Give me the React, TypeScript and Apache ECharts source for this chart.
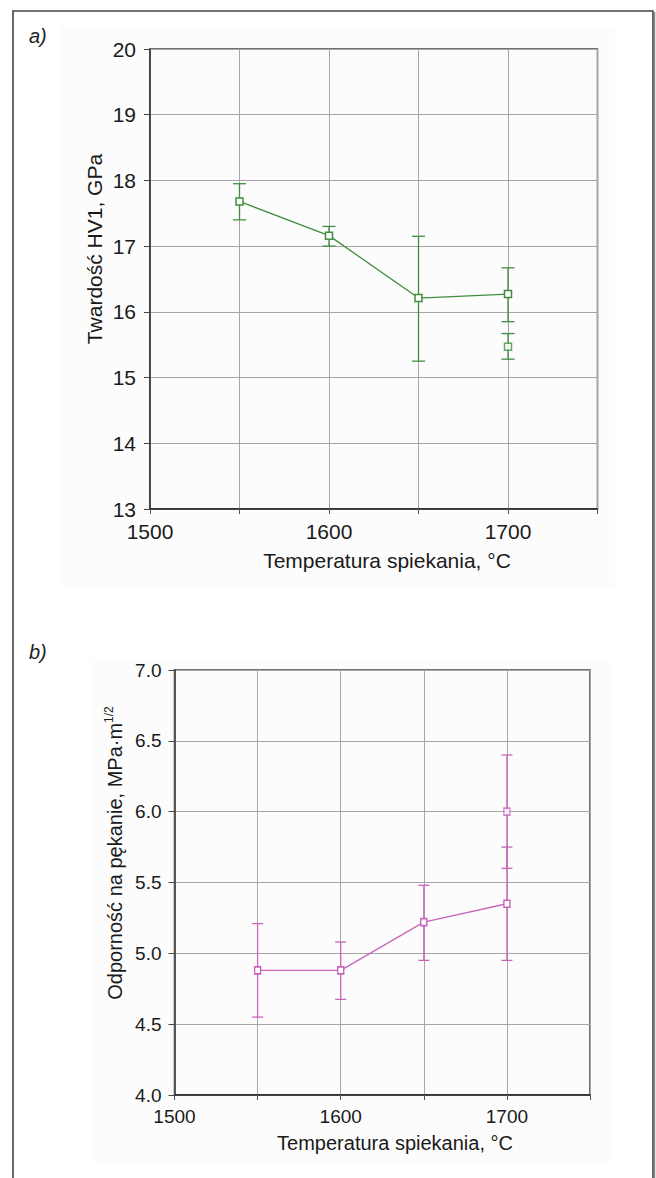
import React, { useEffect, useRef } from "react";
import * as echarts from "echarts";

// ---- Chart a) Twardość HV1 ----
const tempsA = [1550, 1600, 1650, 1700];
const hardness = [17.68, 17.16, 16.21, 16.27];
const hardnessLow = [17.4, 17.0, 15.25, 15.85];
const hardnessHigh = [17.95, 17.3, 17.15, 16.67];
const hardnessExtraT = [1700];
const hardnessExtra = [15.47];
const hardnessExtraLow = [15.28];
const hardnessExtraHigh = [15.67];

// ---- Chart b) Odporność na pękanie ----
const tempsB = [1550, 1600, 1650, 1700];
const toughness = [4.88, 4.88, 5.22, 5.35];
const toughnessLow = [4.55, 4.675, 4.95, 4.95];
const toughnessHigh = [5.21, 5.08, 5.48, 5.75];
const toughnessExtraT = [1700];
const toughnessExtra = [6.0];
const toughnessExtraLow = [5.6];
const toughnessExtraHigh = [6.4];

const xTicks = [1500, 1600, 1700];
const FONT = "'Liberation Sans', Arial, sans-serif";
const GREEN = "#3f8d3f";
const PINK = "#c866b9";
const GRID = "#aaa4a9";

function errData(t: number[], lo: number[], hi: number[]) {
  return t.map((x, i) => [x, lo[i], hi[i]]);
}

function errSeries(idx: number, data: number[][], color: string, cap: number) {
  return {
    type: "custom",
    xAxisIndex: idx,
    yAxisIndex: idx,
    z: 3,
    data,
    encode: { x: 0, y: [1, 2] },
    renderItem: (params: any, api: any) => {
      const x = api.value(0);
      const lo = api.coord([x, api.value(1)]);
      const hi = api.coord([x, api.value(2)]);
      const st = { stroke: color, lineWidth: 1.3 };
      return {
        type: "group",
        children: [
          { type: "line", shape: { x1: lo[0], y1: lo[1], x2: hi[0], y2: hi[1] }, style: st },
          { type: "line", shape: { x1: lo[0] - cap, y1: lo[1], x2: lo[0] + cap, y2: lo[1] }, style: st },
          { type: "line", shape: { x1: hi[0] - cap, y1: hi[1], x2: hi[0] + cap, y2: hi[1] }, style: st },
        ],
      };
    },
  };
}

function xAxis(idx: number, fs: number) {
  return {
    type: "value",
    gridIndex: idx,
    min: 1500,
    max: 1750,
    interval: 50,
    axisLine: { show: true, lineStyle: { color: "#222", width: 1.5 } },
    axisTick: { show: true, inside: false, length: 5, lineStyle: { color: "#555" } },
    splitLine: { show: true, lineStyle: { color: GRID, width: 1 } },
    axisLabel: {
      margin: 12,
      fontSize: fs,
      color: "#1a1a1a",
      fontFamily: FONT,
      formatter: (v: number) => (xTicks.includes(v) ? String(v) : ""),
    },
  };
}

export default function App() {
  const ref = useRef<HTMLDivElement>(null);
  useEffect(() => {
    const chart = echarts.init(ref.current!, null, { renderer: "svg" });
    const option: any = {
      animation: false,
      backgroundColor: "#ffffff",
      grid: [
        { left: 150, top: 49, width: 447.5, height: 460, show: true, borderColor: "#444", borderWidth: 1.5 },
        { left: 174.5, top: 670, width: 415.5, height: 425, show: true, borderColor: "#444", borderWidth: 1.5 },
      ],
      xAxis: [xAxis(0, 21), xAxis(1, 19)],
      yAxis: [
        {
          type: "value",
          gridIndex: 0,
          min: 13,
          max: 20,
          interval: 1,
          axisLine: { show: true, lineStyle: { color: "#333", width: 1.5 } },
          axisTick: { show: true, length: 6, lineStyle: { color: "#444" } },
          splitLine: { show: true, lineStyle: { color: GRID, width: 1 } },
          axisLabel: { margin: 14, fontSize: 21, color: "#1a1a1a", fontFamily: FONT },
        },
        {
          type: "value",
          gridIndex: 1,
          min: 4,
          max: 7,
          interval: 0.5,
          axisLine: { show: true, lineStyle: { color: "#333", width: 1.5 } },
          axisTick: { show: true, length: 6, lineStyle: { color: "#444" } },
          splitLine: { show: true, lineStyle: { color: GRID, width: 1 } },
          axisLabel: {
            margin: 13,
            fontSize: 19,
            color: "#1a1a1a",
            fontFamily: FONT,
            formatter: (v: number) => v.toFixed(1),
          },
        },
      ],
      series: [
        errSeries(0, errData(tempsA, hardnessLow, hardnessHigh), GREEN, 6.5),
        errSeries(0, errData(hardnessExtraT, hardnessExtraLow, hardnessExtraHigh), GREEN, 6.5),
        {
          type: "line",
          xAxisIndex: 0,
          yAxisIndex: 0,
          z: 5,
          data: tempsA.map((t, i) => [t, hardness[i]]),
          symbol: "rect",
          symbolSize: 7,
          lineStyle: { color: GREEN, width: 1.3 },
          itemStyle: { color: "#fff", borderColor: GREEN, borderWidth: 1.5 },
        },
        {
          type: "scatter",
          xAxisIndex: 0,
          yAxisIndex: 0,
          z: 5,
          data: hardnessExtraT.map((t, i) => [t, hardnessExtra[i]]),
          symbol: "rect",
          symbolSize: 7,
          itemStyle: { color: "#fff", borderColor: GREEN, borderWidth: 1.5 },
        },
        errSeries(1, errData(tempsB, toughnessLow, toughnessHigh), PINK, 5.5),
        errSeries(1, errData(toughnessExtraT, toughnessExtraLow, toughnessExtraHigh), PINK, 5.5),
        {
          type: "line",
          xAxisIndex: 1,
          yAxisIndex: 1,
          z: 5,
          data: tempsB.map((t, i) => [t, toughness[i]]),
          symbol: "rect",
          symbolSize: [6, 7],
          lineStyle: { color: PINK, width: 1.3 },
          itemStyle: { color: "#fff", borderColor: PINK, borderWidth: 1.5 },
        },
        {
          type: "scatter",
          xAxisIndex: 1,
          yAxisIndex: 1,
          z: 5,
          data: toughnessExtraT.map((t, i) => [t, toughnessExtra[i]]),
          symbol: "rect",
          symbolSize: [6, 7],
          itemStyle: { color: "#fff", borderColor: PINK, borderWidth: 1.5 },
        },
      ],
      graphic: [
        { type: "rect", z: -10, shape: { x: 60, y: 27, width: 555, height: 560 }, style: { fill: "#fcfcfc" } },
        { type: "rect", z: -10, shape: { x: 92, y: 660, width: 519, height: 503 }, style: { fill: "#fcfcfc" } },
        {
          type: "rect",
          z: 10,
          shape: { x: 13, y: 11, width: 640, height: 1200 },
          style: { fill: "none", stroke: "#444", lineWidth: 1.6 },
        },
        {
          type: "line",
          z: 10,
          shape: { x1: 654.5, y1: 12, x2: 654.5, y2: 1178 },
          style: { stroke: "#888", lineWidth: 1.5 },
        },
        {
          type: "text",
          x: 29,
          y: 36,
          style: { text: "a)", fontSize: 20, fontStyle: "italic", fontFamily: FONT, fill: "#222", textAlign: "left", textVerticalAlign: "middle" },
        },
        {
          type: "text",
          x: 29,
          y: 652,
          style: { text: "b)", fontSize: 20, fontStyle: "italic", fontFamily: FONT, fill: "#222", textAlign: "left", textVerticalAlign: "middle" },
        },
        {
          type: "text",
          x: 387,
          y: 560,
          style: { text: "Temperatura spiekania, °C", fontSize: 21, fontFamily: FONT, fill: "#1a1a1a", textAlign: "center", textVerticalAlign: "middle" },
        },
        {
          type: "text",
          x: 395,
          y: 1143,
          style: { text: "Temperatura spiekania, °C", fontSize: 20, fontFamily: FONT, fill: "#1a1a1a", textAlign: "center", textVerticalAlign: "middle" },
        },
        {
          type: "text",
          x: 94,
          y: 249,
          rotation: Math.PI / 2,
          style: { text: "Twardość HV1, GPa", fontSize: 21, fontFamily: FONT, fill: "#1a1a1a", textAlign: "center", textVerticalAlign: "middle" },
        },
        {
          type: "text",
          x: 115,
          y: 853,
          rotation: Math.PI / 2,
          style: {
            text: "{n|Odporność na pękanie, MPa·m}{s|1/2}",
            fontFamily: FONT,
            fill: "#1a1a1a",
            textAlign: "center",
            textVerticalAlign: "middle",
            rich: {
              n: { fontSize: 20, fontFamily: FONT, fill: "#1a1a1a", lineHeight: 24 },
              s: { fontSize: 12, fontFamily: FONT, fill: "#1a1a1a", verticalAlign: "top", lineHeight: 24, padding: [0, 0, 10, 0] },
            },
          },
        },
      ],
    };
    chart.setOption(option);
    return () => chart.dispose();
  }, []);
  return (
    <div
      ref={ref}
      style={{ position: "fixed", left: 0, top: 0, width: 656, height: 1178, background: "#fff" }}
    />
  );
}
